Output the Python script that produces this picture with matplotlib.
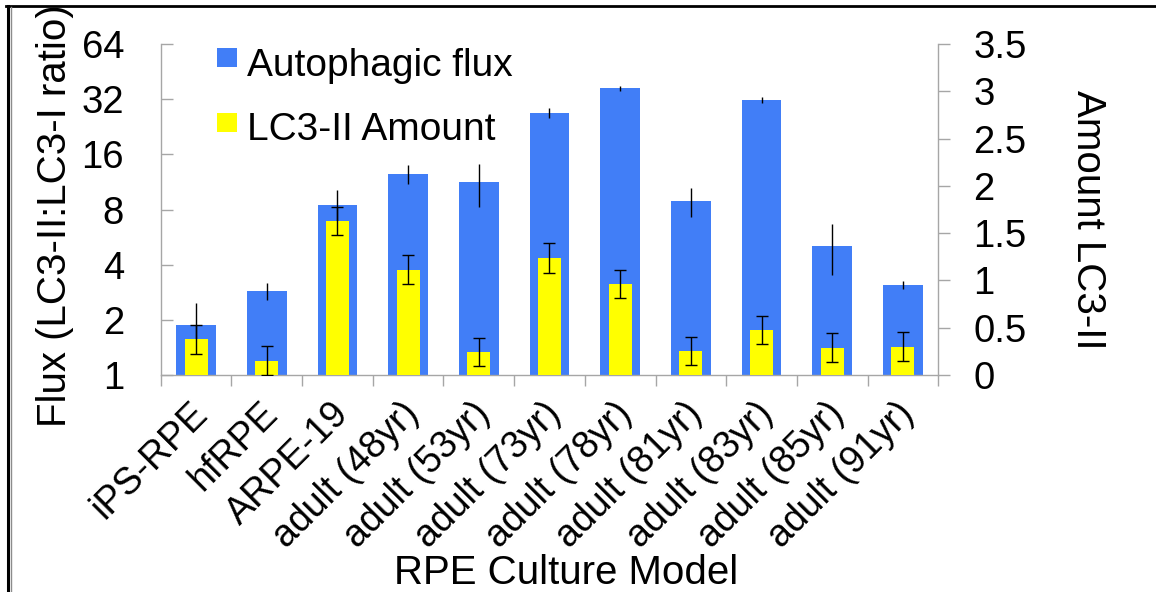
import matplotlib
matplotlib.use("Agg")
import matplotlib.pyplot as plt
from matplotlib.lines import Line2D
from matplotlib.patches import Rectangle
from matplotlib.transforms import ScaledTranslation
import numpy as np

plt.rcParams['font.family'] = ['Liberation Sans', 'DejaVu Sans']

# data
models = ['iPS-RPE', 'hfRPE', 'ARPE-19', 'adult (48yr)', 'adult (53yr)', 'adult (73yr)',
          'adult (78yr)', 'adult (81yr)', 'adult (83yr)', 'adult (85yr)', 'adult (91yr)']
flux = [1.87, 2.87, 8.46, 12.5, 11.25, 27.0, 36.7, 8.9, 31.7, 5.08, 3.10]
flux_err = [0.6, 0.3, 1.75, 1.5, 3.0, 1.6, 1.2, 1.6, 1.25, 1.55, 0.15]
lc3 = [0.377, 0.152, 1.628, 1.114, 0.24, 1.237, 0.962, 0.254, 0.479, 0.286, 0.30]
lc3_err = [0.155, 0.155, 0.15, 0.15, 0.15, 0.16, 0.15, 0.153, 0.15, 0.153, 0.152]
flux_ticks = [1, 2, 4, 8, 16, 32, 64]
lc3_ticks = [0, 0.5, 1, 1.5, 2, 2.5, 3, 3.5]
series_names = ['Autophagic flux', 'LC3-II Amount']

BLUE = '#417ef7'
YELLOW = '#ffff00'
GREY = '#a6a6a6'
W, H = 1156, 592
FS = 27.5      # y tick text
FS_X = 27      # category names
FS_L = 28      # legend
FS_T = 29      # axis titles

fig = plt.figure(figsize=(W / 100, H / 100), dpi=100)
x0, x1, y0, y1 = 160.7, 938.3, 44, 375
ax = fig.add_axes([x0 / W, 1 - y1 / H, (x1 - x0) / W, (y1 - y0) / H])
ax2 = ax.twinx()

xpos = np.arange(len(models)) + 0.5

ax.bar(xpos, flux, width=0.56, color=BLUE, zorder=2)
ax.errorbar(xpos, flux, yerr=flux_err, fmt='none', ecolor='black', elinewidth=1.0, capsize=0, zorder=3)
ax.set_yscale('log', base=2)
ax.set_ylim(1, 64)
ax.set_xlim(0, len(models))
ax.set_yticks(flux_ticks)
ax.set_yticklabels([str(t) for t in flux_ticks])
ax.minorticks_off()

ax2.bar(xpos, lc3, width=0.325, color=YELLOW, zorder=2)
ax2.errorbar(xpos, lc3, yerr=lc3_err, fmt='none', ecolor='black', elinewidth=1.0,
             capsize=4.3, capthick=1.0, zorder=3)
ax2.set_ylim(0, 3.5)
ax2.set_yticks(lc3_ticks)
ax2.set_yticklabels(['%g' % t for t in lc3_ticks])

# category boundaries as major ticks, names on minor ticks
ax.set_xticks(np.arange(len(models) + 1))
ax.set_xticklabels([])
ax.set_xticks(xpos, minor=True)
ax.set_xticklabels(models, minor=True, rotation=45, ha='right', va='top',
                   rotation_mode='anchor', fontsize=FS_X)
ax.tick_params(axis='x', which='major', direction='out', length=7.9, width=1.0, color=GREY)
ax.tick_params(axis='x', which='minor', length=0, pad=15)
shift = ScaledTranslation(-0.07, 0, fig.dpi_scale_trans)
for lab in ax.get_xticklabels(minor=True):
    lab.set_transform(lab.get_transform() + shift)

ax.tick_params(axis='y', which='major', direction='in', length=8.6, width=1.0, color=GREY,
               pad=26.4, labelsize=FS)
ax2.tick_params(axis='y', which='major', direction='out', length=8.6, width=1.0, color=GREY,
                pad=16.8, labelsize=FS)

for a in (ax, ax2):
    for s in a.spines.values():
        s.set_visible(False)
        s.set_color(GREY)
        s.set_linewidth(1.0)
ax.spines['left'].set_visible(True)
ax.spines['bottom'].set_visible(True)
ax2.spines['right'].set_visible(True)

# axis titles
fig.text(55 / W, 1 - 216 / H, 'Flux (LC3-II:LC3-I ratio)', rotation=90,
         ha='center', va='center', fontsize=FS_T)
fig.text(1088 / W, 1 - 220 / H, 'Amount LC3-II', rotation=270,
         ha='center', va='center', fontsize=FS_T)
fig.text(566 / W, 1 - 584 / H, 'RPE Culture Model', ha='center', va='baseline', fontsize=FS_T)

# legend, drawn by hand so the swatches sit where Excel puts them
for i, (name, col) in enumerate(zip(series_names, [BLUE, YELLOW])):
    top = 48.3 + i * 64.4
    fig.add_artist(Rectangle((216.7 / W, 1 - (top + 19) / H), 20 / W, 19 / H,
                             transform=fig.transFigure, color=col, lw=0))
    fig.text(246.7 / W, 1 - (top + 27.5) / H, name, ha='left', va='baseline', fontsize=FS_L)

# outer frame of the pasted figure
fig.add_artist(Line2D([6 / W, 1], [1 - 5.5 / H, 1 - 5.5 / H], transform=fig.transFigure,
                      color='black', lw=2.0))
fig.add_artist(Line2D([7.5 / W, 7.5 / W], [0, 1 - 5.5 / H], transform=fig.transFigure,
                      color='black', lw=2.2))
fig.add_artist(Line2D([10.5 / W, 10.5 / W], [0, 1 - 7 / H], transform=fig.transFigure,
                      color='#8c8c8c', lw=1.0))

fig.savefig('out.png', dpi=100)
